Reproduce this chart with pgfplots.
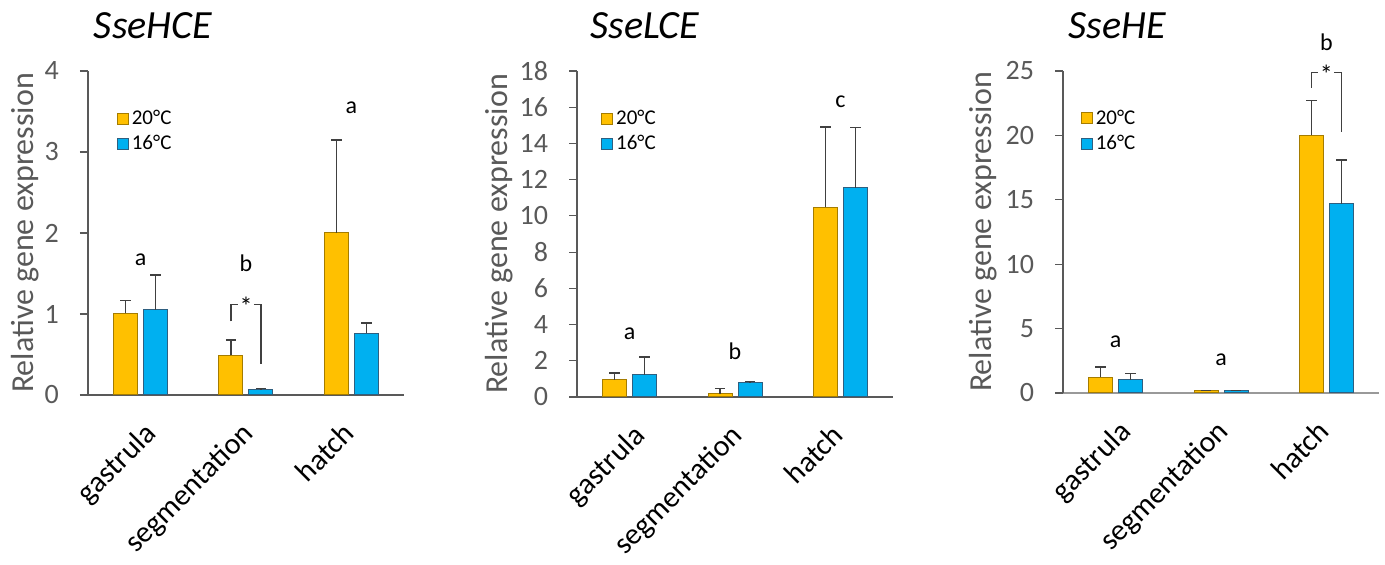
\documentclass[border=0pt]{standalone}
\usepackage{pgfplots}
\pgfplotsset{compat=1.18}
\usepackage{fontspec}
\setmainfont{Carlito}
\definecolor{org}{HTML}{FFC000}
\definecolor{orgedge}{HTML}{A57C00}
\definecolor{blu}{HTML}{00B0F0}
\definecolor{bluedge}{HTML}{2E5F80}
\definecolor{tgray}{HTML}{595959}
\definecolor{errc}{HTML}{404040}
\newcommand{\fs}[1]{\fontsize{#1}{#1}\selectfont}
\pgfplotsset{
  panel/.style={
    scale only axis, width=158pt,
    ybar=3pt, bar width=12pt, clip=false,
    axis x line=bottom, axis y line=left,
    axis line style={-, black!65, line width=0.6pt},
    xmin=-0.5, xmax=2.5, ymin=0,
    xtick={0,1,2}, xticklabels={gastrula,segmentation,hatch},
    xtick style={draw=none},
    xticklabel style={yshift=-4pt, xshift={-5pt+6pt*(\ticknum==0)+2pt*(\ticknum==1)}, rotate=45, anchor=north east, font=\fs{15}, text=black},
    /pgf/number format/assume math mode=true,
    yticklabel style={font=\fs{14}, text=tgray, xshift=-7pt},
    ytick style={black!65, line width=0.6pt},
    tick align=outside, major tick length=4pt,
    ylabel={Relative gene expression},
    ylabel style={font=\fs{16}, text=tgray, anchor=center},
    legend style={draw=none, fill=none, anchor=north west, font=\fs{10.5}, inner sep=0pt,
      row sep=1pt, nodes={inner sep=1.5pt}},
    legend image code/.code={\draw[#1] (0pt,-2.75pt) rectangle (5.5pt,2.75pt);},
    legend cell align=left,
  },
  o/.style={fill=org, draw=orgedge, line width=0.5pt,
    error bars/.cd, y dir=plus, y explicit,
    error bar style={errc, line width=0.7pt},
    error mark options={rotate=90, errc, line width=0.7pt, mark size=2.6pt}},
  b/.style={fill=blu, draw=bluedge, line width=0.5pt,
    error bars/.cd, y dir=plus, y explicit,
    error bar style={errc, line width=0.7pt},
    error mark options={rotate=90, errc, line width=0.7pt, mark size=2.6pt}},
}
\begin{document}
\begin{tikzpicture}
\path[use as bounding box] (0,0) rectangle (692.5pt,282.5pt);
\node[font=\fs{20}\itshape] at (76.5pt,269.5pt) {SseHCE};
\node[font=\fs{20}\itshape] at (322.5pt,269.5pt) {SseLCE};
\node[font=\fs{20}\itshape] at (558.5pt,269.5pt) {SseHE};
% Panel 1
\begin{axis}[panel, at={(44pt,85pt)}, anchor=south west, height=162pt,
  ymax=4, ytick={0,1,2,3,4},
  ylabel style={at={(axis description cs:-0.2,0.5)}},
  legend style={at={(0.09,0.89)}}]
\addplot[o] coordinates {(0,1.01) +- (0,0.16) (1,0.49) +- (0,0.19) (2,2.00) +- (0,1.15)};
\addplot[b] coordinates {(0,1.05) +- (0,0.43) (1,0.066) +- (0,0.014) (2,0.76) +- (0,0.13)};
\legend{20°C,16°C}
\node[font=\fs{12}] at (axis cs:0,1.67) {a};
\node[font=\fs{12}] at (axis cs:1,1.63) {b};
\node[font=\fs{12}] at (axis cs:2,3.55) {a};
\draw[errc, line width=0.6pt] ([xshift=-7.5pt]axis cs:1,0.91) -- ([xshift=-7.5pt]axis cs:1,1.12) -- ([xshift=-4pt]axis cs:1,1.12);
\draw[errc, line width=0.6pt] ([xshift=4pt]axis cs:1,1.12) -- ([xshift=7.5pt]axis cs:1,1.12) -- ([xshift=7.5pt]axis cs:1,0.38);
\node[font=\fs{13}, inner sep=0pt] at (axis cs:1,1.1) {*};
\end{axis}
% Panel 2
\begin{axis}[panel, at={(288.5pt,84pt)}, anchor=south west, height=163pt,
  ymax=18, ytick={0,2,...,18},
  ylabel style={at={(axis description cs:-0.248,0.5)}},
  legend style={at={(0.075,0.89)}}]
\addplot[o] coordinates {(0,0.96) +- (0,0.37) (1,0.19) +- (0,0.27) (2,10.49) +- (0,4.41)};
\addplot[b] coordinates {(0,1.24) +- (0,0.97) (1,0.79) +- (0,0.08) (2,11.54) +- (0,3.35)};
\legend{20°C,16°C}
\node[font=\fs{12}] at (axis cs:0,3.5) {a};
\node[font=\fs{12}] at (axis cs:1,2.5) {b};
\node[font=\fs{12}] at (axis cs:2,16.3) {c};
\end{axis}
% Panel 3
\begin{axis}[panel, at={(531.5pt,86pt)}, anchor=south west, height=161pt,
  ymax=25, ytick={0,5,...,25},
  x axis line style={black!40, line width=1pt},
  ylabel style={at={(axis description cs:-0.252,0.5)}},
  legend style={at={(0.055,0.89)}}]
\addplot[o] coordinates {(0,1.24) +- (0,0.78) (1,0.2) +- (0,0) (2,20.0) +- (0,2.7)};
\addplot[b] coordinates {(0,1.04) +- (0,0.46) (1,0.2) +- (0,0) (2,14.7) +- (0,3.4)};
\legend{20°C,16°C}
\node[font=\fs{12}] at (axis cs:0,3.96) {a};
\node[font=\fs{12}] at (axis cs:1,2.56) {a};
\node[font=\fs{12}] at (axis cs:2,27.2) {b};
\draw[errc, line width=0.6pt] ([xshift=-7.5pt]axis cs:2,23.7) -- ([xshift=-7.5pt]axis cs:2,24.9) -- ([xshift=-4pt]axis cs:2,24.9);
\draw[errc, line width=0.6pt] ([xshift=4pt]axis cs:2,24.9) -- ([xshift=7.5pt]axis cs:2,24.9) -- ([xshift=7.5pt]axis cs:2,20.3);
\node[font=\fs{13}, inner sep=0pt] at (axis cs:2,24.75) {*};
\end{axis}
\end{tikzpicture}
\end{document}
